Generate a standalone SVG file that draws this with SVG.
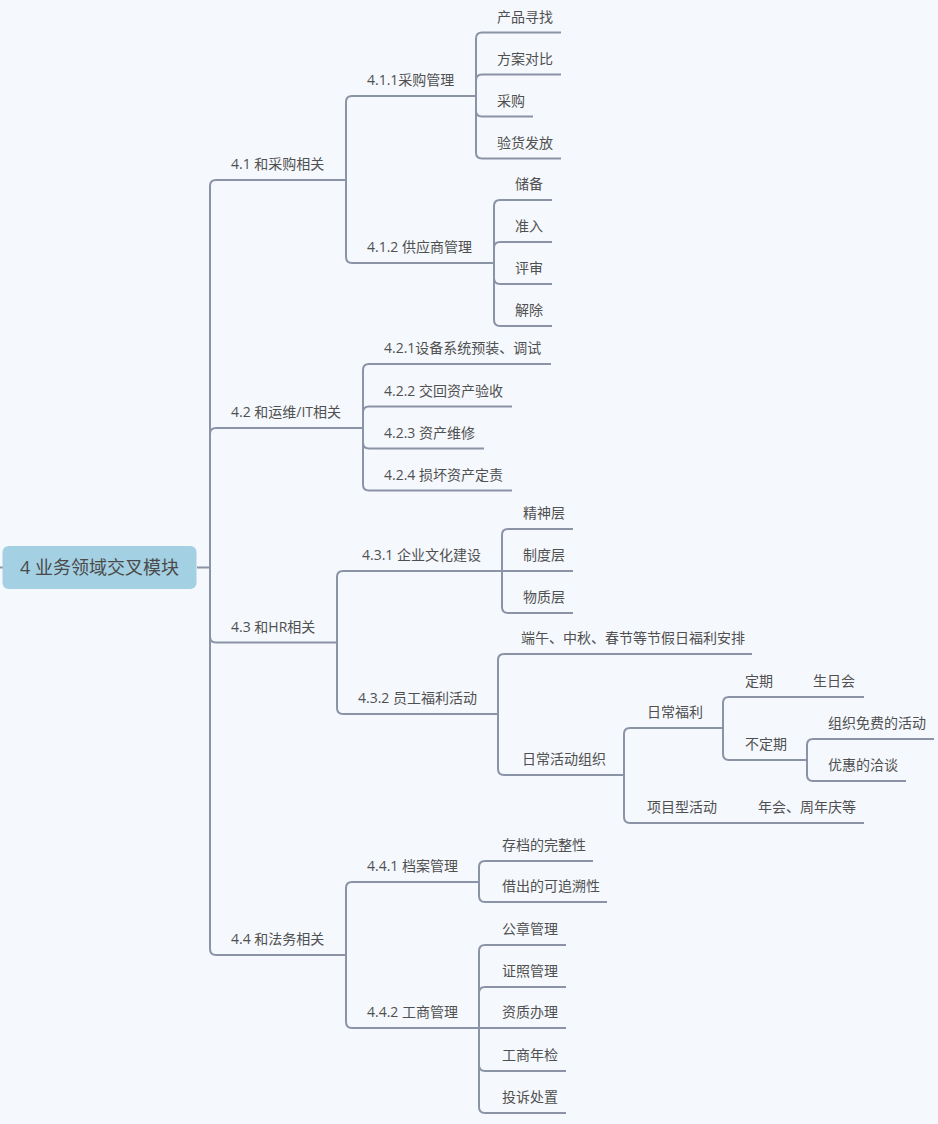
<svg xmlns="http://www.w3.org/2000/svg" width="938" height="1124" viewBox="0 0 938 1124">
<style>
.bg{fill:#f5f8fd}
.ln{stroke:#8b93a6;stroke-width:2;fill:none}
.u{stroke:#8b93a6;stroke-width:2}
.t{font-family:"Open Sans","Noto Sans CJK SC",sans-serif;font-size:14px;fill:#505050}
.rt{font-family:"Open Sans","Noto Sans CJK SC",sans-serif;font-size:18px;fill:#4a4a4a}
</style>
<rect class="bg" x="0" y="0" width="938" height="1124"/>
<g id="connectors">
<path class="ln" d="M0 567.5 H3"/>
<path class="ln" d="M197 567.5 H210"/>
<path class="ln" d="M210 567.5 V186 Q210 180 216 180 M210 567.5 V434 Q210 428 216 428 M210 567.5 V636.5 Q210 642.5 216 642.5 M210 567.5 V949 Q210 955 216 955"/>
<path class="ln" d="M346 180 V102 Q346 96 352 96 M346 180 V257 Q346 263 352 263"/>
<path class="ln" d="M476 96 V38.5 Q476 32.5 482 32.5 M476 96 V80.5 Q476 74.5 482 74.5 M476 96 V110.5 Q476 116.5 482 116.5 M476 96 V152.5 Q476 158.5 482 158.5"/>
<path class="ln" d="M494 263 V206 Q494 200 500 200 M494 263 V248 Q494 242 500 242 M494 263 V278 Q494 284 500 284 M494 263 V320 Q494 326 500 326"/>
<path class="ln" d="M363 428 V370 Q363 364 369 364 M363 428 V412.5 Q363 406.5 369 406.5 M363 428 V442.5 Q363 448.5 369 448.5 M363 428 V484.5 Q363 490.5 369 490.5"/>
<path class="ln" d="M337 642.5 V577 Q337 571 343 571 M337 642.5 V708 Q337 714 343 714"/>
<path class="ln" d="M502 571 V535 Q502 529 508 529 M502 571 H508 M502 571 V607 Q502 613 508 613"/>
<path class="ln" d="M498 714 V660 Q498 654 504 654 M498 714 V769 Q498 775 504 775"/>
<path class="ln" d="M624 775 V734 Q624 728 630 728 M624 775 V817 Q624 823 630 823"/>
<path class="ln" d="M723 728 V703 Q723 697 729 697 M723 728 V754 Q723 760 729 760"/>
<path class="ln" d="M807 760 V745 Q807 739 813 739 M807 760 V775 Q807 781 813 781"/>
<path class="ln" d="M783 697 H790 M737 823 H744"/>
<path class="ln" d="M346 955 V888 Q346 882 352 882 M346 955 V1022 Q346 1028 352 1028"/>
<path class="ln" d="M479 882 V867 Q479 861 485 861 M479 882 V896 Q479 902 485 902"/>
<path class="ln" d="M479 1028 V951 Q479 945 485 945 M479 1028 V993 Q479 987 485 987 M479 1028 H485 M479 1028 V1065 Q479 1071 485 1071 M479 1028 V1107 Q479 1113 485 1113"/>
</g>
<g id="root"><rect x="2.5" y="546" width="194" height="43" rx="6" fill="#a3d0e2"/><text class="rt" x="99.5" y="573.5" text-anchor="middle">4 业务领域交叉模块</text></g>
<g id="n4_1"><line class="u" x1="216" y1="180" x2="346" y2="180"/><text class="t" x="231" y="169">4.1 和采购相关</text></g>
<g id="n4_1_1"><line class="u" x1="352" y1="96" x2="476" y2="96"/><text class="t" x="367" y="85">4.1.1采购管理</text></g>
<g id="n4_1_1_1"><line class="u" x1="482" y1="32.5" x2="561" y2="32.5"/><text class="t" x="497" y="21.5">产品寻找</text></g>
<g id="n4_1_1_2"><line class="u" x1="482" y1="74.5" x2="561" y2="74.5"/><text class="t" x="497" y="63.5">方案对比</text></g>
<g id="n4_1_1_3"><line class="u" x1="482" y1="116.5" x2="533" y2="116.5"/><text class="t" x="497" y="105.5">采购</text></g>
<g id="n4_1_1_4"><line class="u" x1="482" y1="158.5" x2="561" y2="158.5"/><text class="t" x="497" y="147.5">验货发放</text></g>
<g id="n4_1_2"><line class="u" x1="352" y1="263" x2="494" y2="263"/><text class="t" x="367" y="252">4.1.2 供应商管理</text></g>
<g id="n4_1_2_1"><line class="u" x1="500" y1="200" x2="552" y2="200"/><text class="t" x="515" y="189">储备</text></g>
<g id="n4_1_2_2"><line class="u" x1="500" y1="242" x2="552" y2="242"/><text class="t" x="515" y="231">准入</text></g>
<g id="n4_1_2_3"><line class="u" x1="500" y1="284" x2="552" y2="284"/><text class="t" x="515" y="273">评审</text></g>
<g id="n4_1_2_4"><line class="u" x1="500" y1="326" x2="552" y2="326"/><text class="t" x="515" y="315">解除</text></g>
<g id="n4_2"><line class="u" x1="216" y1="428" x2="363" y2="428"/><text class="t" x="231" y="417">4.2 和运维/IT相关</text></g>
<g id="n4_2_1"><line class="u" x1="369" y1="364" x2="551" y2="364"/><text class="t" x="384" y="353">4.2.1设备系统预装、调试</text></g>
<g id="n4_2_2"><line class="u" x1="369" y1="406.5" x2="512" y2="406.5"/><text class="t" x="384" y="395.5">4.2.2 交回资产验收</text></g>
<g id="n4_2_3"><line class="u" x1="369" y1="448.5" x2="484" y2="448.5"/><text class="t" x="384" y="437.5">4.2.3 资产维修</text></g>
<g id="n4_2_4"><line class="u" x1="369" y1="490.5" x2="512" y2="490.5"/><text class="t" x="384" y="479.5">4.2.4 损坏资产定责</text></g>
<g id="n4_3"><line class="u" x1="216" y1="642.5" x2="337" y2="642.5"/><text class="t" x="231" y="631.5">4.3 和HR相关</text></g>
<g id="n4_3_1"><line class="u" x1="343" y1="571" x2="502" y2="571"/><text class="t" x="362" y="560">4.3.1 企业文化建设</text></g>
<g id="n4_3_1_1"><line class="u" x1="508" y1="529" x2="573" y2="529"/><text class="t" x="523" y="518">精神层</text></g>
<g id="n4_3_1_2"><line class="u" x1="508" y1="571" x2="573" y2="571"/><text class="t" x="523" y="560">制度层</text></g>
<g id="n4_3_1_3"><line class="u" x1="508" y1="613" x2="573" y2="613"/><text class="t" x="523" y="602">物质层</text></g>
<g id="n4_3_2"><line class="u" x1="343" y1="714" x2="498" y2="714"/><text class="t" x="358" y="703">4.3.2 员工福利活动</text></g>
<g id="n4_3_2_1"><line class="u" x1="504" y1="654" x2="752" y2="654"/><text class="t" x="521" y="643">端午、中秋、春节等节假日福利安排</text></g>
<g id="n4_3_2_2"><line class="u" x1="504" y1="775" x2="624" y2="775"/><text class="t" x="522" y="764">日常活动组织</text></g>
<g id="n_rcfl"><line class="u" x1="630" y1="728" x2="723" y2="728"/><text class="t" x="647" y="717">日常福利</text></g>
<g id="n_dq"><line class="u" x1="729" y1="697" x2="783" y2="697"/><text class="t" x="745" y="686">定期</text></g>
<g id="n_srh"><line class="u" x1="790" y1="697" x2="864" y2="697"/><text class="t" x="813" y="686">生日会</text></g>
<g id="n_bdq"><line class="u" x1="729" y1="760" x2="807" y2="760"/><text class="t" x="745" y="749">不定期</text></g>
<g id="n_zzmf"><line class="u" x1="813" y1="739" x2="934" y2="739"/><text class="t" x="828" y="728">组织免费的活动</text></g>
<g id="n_yhqt"><line class="u" x1="813" y1="781" x2="906" y2="781"/><text class="t" x="828" y="770">优惠的洽谈</text></g>
<g id="n_xmx"><line class="u" x1="630" y1="823" x2="737" y2="823"/><text class="t" x="647" y="812">项目型活动</text></g>
<g id="n_nh"><line class="u" x1="744" y1="823" x2="864" y2="823"/><text class="t" x="758" y="812">年会、周年庆等</text></g>
<g id="n4_4"><line class="u" x1="216" y1="955" x2="346" y2="955"/><text class="t" x="231" y="944">4.4 和法务相关</text></g>
<g id="n4_4_1"><line class="u" x1="352" y1="882" x2="479" y2="882"/><text class="t" x="367" y="871">4.4.1 档案管理</text></g>
<g id="n4_4_1_1"><line class="u" x1="485" y1="861" x2="593" y2="861"/><text class="t" x="502" y="850">存档的完整性</text></g>
<g id="n4_4_1_2"><line class="u" x1="485" y1="902" x2="607" y2="902"/><text class="t" x="502" y="891">借出的可追溯性</text></g>
<g id="n4_4_2"><line class="u" x1="352" y1="1028" x2="479" y2="1028"/><text class="t" x="367" y="1017">4.4.2 工商管理</text></g>
<g id="n4_4_2_1"><line class="u" x1="485" y1="945" x2="566" y2="945"/><text class="t" x="502" y="934">公章管理</text></g>
<g id="n4_4_2_2"><line class="u" x1="485" y1="987" x2="566" y2="987"/><text class="t" x="502" y="976">证照管理</text></g>
<g id="n4_4_2_3"><line class="u" x1="485" y1="1028" x2="566" y2="1028"/><text class="t" x="502" y="1017">资质办理</text></g>
<g id="n4_4_2_4"><line class="u" x1="485" y1="1071" x2="566" y2="1071"/><text class="t" x="502" y="1060">工商年检</text></g>
<g id="n4_4_2_5"><line class="u" x1="485" y1="1113" x2="566" y2="1113"/><text class="t" x="502" y="1102">投诉处置</text></g>
</svg>
